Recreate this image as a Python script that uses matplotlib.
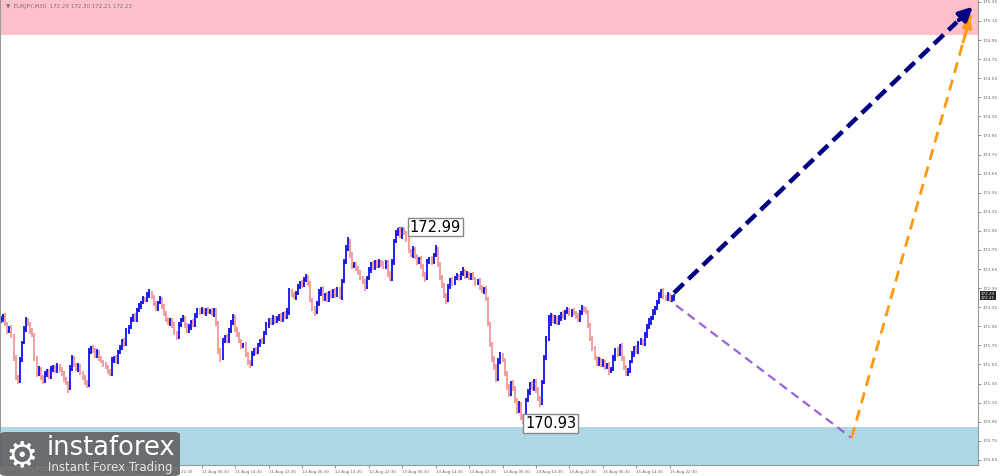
import numpy as np
import matplotlib
matplotlib.use('Agg')
import matplotlib.pyplot as plt
from matplotlib.collections import LineCollection
from matplotlib.patches import FancyBboxPatch

plt.rcParams['font.family'] = ['DejaVu Sans']

# EURJPY M30 closes, one per bar
closes = [
    172.03, 172.06, 171.97, 171.90, 171.93, 171.85, 171.62, 171.42, 171.38, 171.60,
    171.78, 171.92, 172.02, 171.97, 171.90, 171.86, 171.62, 171.45, 171.50, 171.42,
    171.38, 171.45, 171.48, 171.42, 171.50, 171.52, 171.48, 171.53, 171.50, 171.45,
    171.40, 171.36, 171.30, 171.50, 171.62, 171.55, 171.50, 171.53, 171.46, 171.42,
    171.36, 171.33, 171.68, 171.72, 171.70, 171.64, 171.68, 171.62, 171.58, 171.55,
    171.52, 171.48, 171.45, 171.60, 171.62, 171.58, 171.68, 171.72, 171.80, 171.76,
    171.90, 171.94, 172.02, 172.06, 172.02, 172.12, 172.16, 172.20, 172.24, 172.22,
    172.28, 172.30, 172.26, 172.18, 172.14, 172.20, 172.24, 172.16, 172.08, 172.02,
    171.98, 172.02, 171.96, 171.88, 171.84, 171.96, 172.02, 172.04, 171.96, 171.90,
    171.94, 172.00, 171.96, 172.06, 172.12, 172.10, 172.12, 172.09, 172.12, 172.10,
    172.11, 172.08, 172.12, 171.98, 171.70, 171.62, 171.80, 171.84, 171.80, 171.90,
    171.98, 172.05, 171.92, 171.86, 171.80, 171.74, 171.76, 171.66, 171.58, 171.55,
    171.66, 171.70, 171.68, 171.76, 171.80, 171.78, 171.88, 171.96, 172.02, 171.98,
    172.04, 172.00, 172.03, 172.06, 172.02, 172.08, 172.05, 172.10, 172.32, 172.28,
    172.26, 172.30, 172.36, 172.40, 172.38, 172.43, 172.47, 172.40, 172.22, 172.14,
    172.10, 172.18, 172.30, 172.34, 172.24, 172.28, 172.22, 172.30, 172.27, 172.32,
    172.28, 172.34, 172.26, 172.42, 172.62, 172.76, 172.84, 172.70, 172.58, 172.60,
    172.55, 172.52, 172.46, 172.42, 172.36, 172.46, 172.54, 172.60, 172.56, 172.62,
    172.58, 172.62, 172.60, 172.57, 172.62, 172.50, 172.44, 172.62, 172.84, 172.92,
    172.95, 172.90, 172.96, 172.93, 172.86, 172.74, 172.70, 172.76, 172.68, 172.62,
    172.66, 172.58, 172.50, 172.45, 172.62, 172.66, 172.62, 172.70, 172.76, 172.60,
    172.46, 172.38, 172.28, 172.22, 172.36, 172.44, 172.40, 172.46, 172.48, 172.45,
    172.50, 172.53, 172.48, 172.50, 172.46, 172.49, 172.45, 172.40, 172.43, 172.36,
    172.32, 172.34, 172.24, 171.98, 171.76, 171.62, 171.52, 171.40, 171.58, 171.64,
    171.60, 171.46, 171.32, 171.24, 171.36, 171.30, 171.18, 171.06, 171.14, 171.00,
    170.98, 171.18, 171.26, 171.34, 171.30, 171.38, 171.28, 171.20, 171.14, 171.36,
    171.62, 171.82, 171.98, 172.06, 172.00, 172.04, 171.98, 172.04, 172.08, 172.05,
    172.10, 172.12, 172.08, 172.11, 172.09, 172.06, 172.02, 172.10, 172.14, 172.12,
    172.10, 171.96, 171.82, 171.72, 171.62, 171.56, 171.60, 171.54, 171.58, 171.52,
    171.55, 171.48, 171.50, 171.62, 171.70, 171.66, 171.74, 171.62, 171.52, 171.46,
    171.48, 171.58, 171.66, 171.72, 171.68, 171.78, 171.80, 171.76, 171.86, 171.94,
    171.98, 172.04, 172.10, 172.14, 172.20, 172.28, 172.32, 172.26, 172.24, 172.28,
    172.22, 172.25, 172.27,
]
first_open = 172.00

# wick lengths in pips above / below the bar body
up_wick = [
    3, 2, 3, 2, 2, 3, 2, 3, 2, 3, 2, 3, 3, 2, 2, 3, 2, 2, 3, 2,
    2, 3, 2, 2, 3, 2, 2, 3, 2, 2, 3, 2, 2, 4, 3, 2, 2, 3, 2, 2,
    2, 3, 4, 2, 3, 2, 3, 2, 2, 2, 3, 2, 2, 3, 2, 3, 2, 3, 2, 3,
    3, 2, 3, 2, 3, 2, 3, 2, 3, 2, 3, 4, 2, 2, 3, 2, 3, 2, 2, 3,
    3, 2, 2, 3, 2, 3, 2, 3, 2, 2, 3, 2, 3, 3, 2, 2, 3, 2, 2, 3,
    2, 3, 2, 2, 3, 2, 3, 2, 3, 3, 4, 3, 2, 2, 3, 2, 2, 3, 2, 2,
    3, 2, 3, 2, 2, 3, 2, 3, 2, 2, 3, 2, 3, 2, 3, 2, 3, 4, 3, 2,
    3, 2, 3, 2, 3, 4, 3, 2, 2, 3, 2, 3, 4, 2, 3, 2, 3, 2, 3, 2,
    3, 2, 2, 3, 3, 4, 5, 2, 3, 2, 2, 3, 2, 2, 3, 2, 3, 2, 3, 2,
    2, 3, 2, 3, 2, 2, 3, 3, 3, 4, 3, 3, 3, 2, 2, 3, 2, 3, 2, 3,
    2, 3, 2, 2, 3, 2, 3, 2, 4, 2, 2, 3, 2, 2, 3, 2, 3, 2, 3, 2,
    3, 4, 2, 3, 2, 2, 3, 2, 2, 3, 2, 2, 3, 2, 2, 3, 2, 3, 4, 4,
    3, 2, 2, 3, 2, 3, 2, 2, 3, 2, 3, 2, 3, 3, 4, 2, 2, 3, 2, 3,
    3, 3, 9, 3, 2, 3, 2, 3, 2, 3, 2, 3, 2, 2, 3, 2, 3, 2, 3, 2,
    3, 2, 2, 3, 2, 2, 3, 2, 3, 2, 2, 3, 2, 3, 2, 3, 2, 3, 2, 2,
    3, 2, 3, 2, 3, 2, 3, 2, 3, 3, 6, 2, 3, 2, 3, 3, 2, 3, 2, 3,
    2, 3, 2,
]
dn_wick = [
    2, 3, 2, 3, 2, 2, 3, 3, 4, 2, 2, 2, 3, 2, 3, 2, 3, 3, 2, 3,
    3, 2, 3, 2, 2, 3, 2, 2, 3, 2, 3, 3, 5, 2, 2, 3, 2, 3, 2, 3,
    3, 3, 2, 2, 3, 2, 2, 3, 2, 3, 2, 3, 2, 2, 3, 2, 3, 2, 2, 3,
    2, 3, 2, 2, 3, 2, 2, 3, 2, 2, 2, 3, 2, 2, 3, 3, 2, 3, 2, 3,
    2, 3, 3, 2, 3, 2, 2, 2, 3, 2, 2, 3, 2, 2, 2, 3, 2, 2, 3, 2,
    2, 2, 3, 3, 4, 4, 2, 2, 3, 2, 2, 2, 3, 2, 2, 3, 2, 3, 4, 4,
    2, 2, 3, 2, 3, 2, 2, 2, 3, 2, 2, 3, 2, 2, 3, 2, 2, 2, 3, 2,
    2, 3, 2, 2, 3, 2, 2, 3, 2, 3, 4, 2, 2, 3, 2, 3, 2, 2, 3, 2,
    3, 2, 2, 3, 2, 2, 2, 3, 3, 2, 2, 3, 2, 3, 4, 2, 2, 3, 2, 2,
    2, 2, 3, 2, 2, 3, 2, 2, 3, 2, 2, 2, 3, 2, 3, 2, 2, 3, 2, 3,
    2, 3, 3, 4, 2, 2, 3, 2, 2, 3, 3, 3, 3, 4, 2, 2, 3, 2, 2, 3,
    2, 2, 3, 2, 2, 3, 2, 3, 2, 3, 2, 3, 2, 3, 3, 4, 3, 3, 2, 3,
    2, 3, 4, 3, 2, 3, 3, 3, 2, 3, 5, 2, 2, 3, 2, 3, 3, 3, 4, 2,
    2, 2, 2, 3, 2, 3, 2, 2, 3, 2, 3, 2, 2, 3, 2, 3, 2, 2, 3, 2,
    2, 3, 2, 3, 2, 3, 3, 2, 2, 3, 2, 4, 2, 2, 3, 3, 2, 3, 3, 3,
    3, 2, 2, 3, 2, 2, 3, 2, 2, 3, 2, 2, 2, 3, 2, 2, 3, 2, 3, 2,
    2, 2, 3,
]

# time axis labels, one every 16 bars
time_labels = [
    '7 Aug 2025', '7 Aug 14:30', '7 Aug 22:30', '8 Aug 06:30', '8 Aug 14:30',
    '8 Aug 22:30', '11 Aug 06:30', '11 Aug 14:30', '11 Aug 22:30', '12 Aug 06:30',
    '12 Aug 14:30', '12 Aug 22:30', '13 Aug 06:30', '13 Aug 14:30', '13 Aug 22:30',
    '14 Aug 06:30', '14 Aug 14:30', '14 Aug 22:30', '15 Aug 06:30', '15 Aug 14:30',
    '15 Aug 22:30',
]
label_step = 16

# price scale labels
price_ticks = [175.35, 175.15, 174.95, 174.75, 174.55, 174.35, 174.15, 173.95, 173.75,
               173.55, 173.35, 173.15, 172.95, 172.75, 172.55, 172.35, 172.15, 171.95,
               171.75, 171.55, 171.35, 171.15, 170.95, 170.75, 170.55]

# zones
resist_zone = (175.00, 176.00)
support_zone = (170.00, 170.89)

# marked extremes: (bar, price, text, text offset in bars)
marks = [(190, 172.99, '172.99', 5.5), (250, 170.93, '170.93', 0.8)]

# forecast paths (bar index, price)
main_fc_x = [322, 466]
main_fc_y = [172.30, 175.32]
alt_fc_x = [323, 407, 464]
alt_fc_y = [172.17, 170.78, 175.21]

y_min, y_max = 170.496, 175.37
x_min, x_max = -0.5, 467.5

closes = np.array(closes)
opens = np.concatenate([[first_open], closes[:-1]])
highs = np.maximum(opens, closes) + np.array(up_wick) / 100
lows = np.minimum(opens, closes) - np.array(dn_wick) / 100
idx = np.arange(len(closes))

fig = plt.figure(figsize=(10, 4.76), dpi=100)
ax = fig.add_axes([0, 11 / 476, 0.978, 465 / 476])
ax.set_xlim(x_min, x_max)
ax.set_ylim(y_min, y_max)

ax.axhspan(*resist_zone, color='#ffc0cb', zorder=0, lw=0)
ax.axhspan(*support_zone, color='#add8e6', zorder=0, lw=0)

up = closes >= opens
blue, red = '#1010ee', '#f0999b'
for mask, col in [(up, blue), (~up, red)]:
    segs = []
    for i in idx[mask]:
        segs.append([(i, lows[i]), (i, highs[i])])
        segs.append([(i - 0.45, opens[i]), (i, opens[i])])
        segs.append([(i, closes[i]), (i + 0.45, closes[i])])
    ax.add_collection(LineCollection(segs, colors=col, linewidths=1.3, zorder=2))

for bx, py, txt, off in marks:
    ax.plot([bx, bx + 2.5], [py, py], color='#888888', lw=0.8, zorder=3)
    ax.text(bx + off, py, txt, fontsize=10.5, va='center', ha='left', zorder=4,
            bbox=dict(boxstyle='square,pad=0.12', fc='white', ec='#888888', lw=1))

# alternative scenario: purple down, orange up
ax.plot(alt_fc_x[:2], alt_fc_y[:2], color='#9a62d8', lw=1.6, ls=(0, (4, 2.5)), zorder=5)
ax.plot(alt_fc_x[1:], alt_fc_y[1:], color='#ff9a10', lw=2.0, ls=(0, (4, 2.5)), zorder=5)
ox = alt_fc_x[1] + 0.93 * (alt_fc_x[2] - alt_fc_x[1])
oy = alt_fc_y[1] + 0.93 * (alt_fc_y[2] - alt_fc_y[1])
ax.annotate('', xy=(alt_fc_x[2], alt_fc_y[2]), xytext=(ox, oy), zorder=6,
            arrowprops=dict(arrowstyle='-|>', color='#ff9a10', lw=2, mutation_scale=14))

# main scenario
mx = main_fc_x[0] + 0.94 * (main_fc_x[1] - main_fc_x[0])
my = main_fc_y[0] + 0.94 * (main_fc_y[1] - main_fc_y[0])
ax.plot([main_fc_x[0], mx], [main_fc_y[0], my], color='#000080', lw=3.2,
        ls=(0, (3, 1.5)), zorder=6)
ax.annotate('', xy=(main_fc_x[1], main_fc_y[1]), xytext=(mx, my), zorder=7,
            arrowprops=dict(arrowstyle='-|>', color='#000080', lw=3, mutation_scale=20))

# axes styling
ax.yaxis.tick_right()
ax.set_yticks(price_ticks)
ax.set_yticklabels([f'{v:.2f}' for v in price_ticks])
ax.set_xticks([k * label_step for k in range(len(time_labels))])
ax.set_xticklabels(time_labels)
for lbl in ax.get_xticklabels():
    lbl.set_ha('left')
ax.tick_params(axis='x', labelsize=2.9, colors='#666666', length=2, width=0.5, pad=1.5)
ax.tick_params(axis='y', labelsize=3.2, colors='#666666', length=2, width=0.5, pad=1)
for s in ['left', 'right', 'bottom']:
    ax.spines[s].set_color('#999999')
ax.spines['top'].set_visible(False)

# current price marker
ax.text(1.003, (172.27 - y_min) / (y_max - y_min), '172.23\n172.21', transform=ax.transAxes,
        fontsize=3.0, color='white', va='center', ha='left', linespacing=0.9,
        bbox=dict(boxstyle='square,pad=0.15', fc='#222222', ec='none'), clip_on=False)

ax.text(0.006, 0.992, '\u25bc  EURJPY,M30  172.29 172.30 172.21 172.23', transform=ax.transAxes,
        fontsize=4, color='#777777', va='top', ha='left')

# logo
fig.patches.append(FancyBboxPatch((0, 0), 180 / 1000, 44 / 476, boxstyle='round,pad=0,rounding_size=0.006',
                                  transform=fig.transFigure, fc='#5f5f5f', ec='none', alpha=0.88, zorder=10))
fig.text(6 / 1000, 20 / 476, '\u2699', fontsize=26, color='white', va='center', ha='left', zorder=11)
fig.text(47 / 1000, 28 / 476, 'instaforex', fontsize=18.5, color='white', va='center', ha='left', zorder=11)
fig.text(48 / 1000, 8 / 476, 'Instant Forex Trading', fontsize=8.5, color='#e8e8e8', va='center', ha='left', zorder=11)

fig.savefig('out.png', dpi=100)
